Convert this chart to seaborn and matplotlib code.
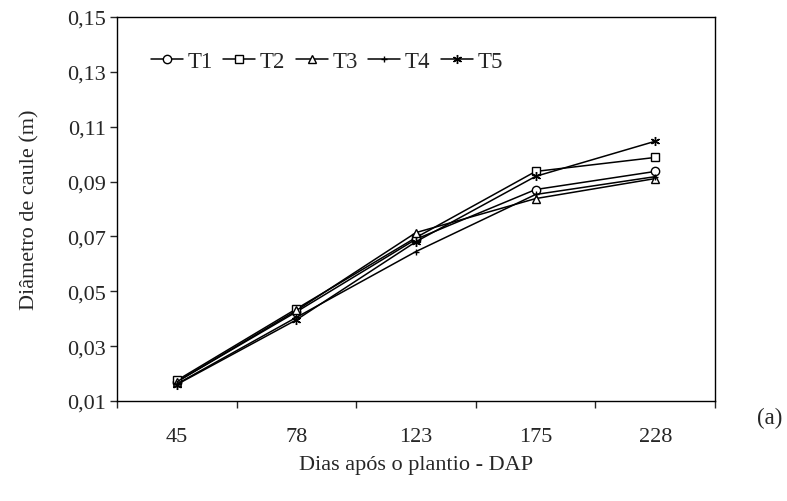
import matplotlib
matplotlib.use("Agg")
import matplotlib.pyplot as plt
import seaborn as sns
import pandas as pd
import numpy as np
from matplotlib.ticker import FixedLocator, NullFormatter, FixedFormatter

days = ["45", "78", "123", "175", "228"]
T1 = [0.0170, 0.0425, 0.0690, 0.0871, 0.0937]
T2 = [0.0175, 0.0436, 0.0696, 0.0937, 0.0988]
T3 = [0.0170, 0.0430, 0.0714, 0.0838, 0.0911]
T4 = [0.0162, 0.0405, 0.0645, 0.0853, 0.0918]
T5 = [0.0160, 0.0396, 0.0681, 0.0919, 0.1047]
yticks = [0.01, 0.03, 0.05, 0.07, 0.09, 0.11, 0.13, 0.15]

series = {"T1": T1, "T2": T2, "T3": T3, "T4": T4, "T5": T5}
markers = {"T1": "o", "T2": "s", "T3": "^", "T4": "+", "T5": (6, 2, 0)}
msizes = {"T1": 6, "T2": 6, "T3": 6, "T4": 4, "T5": 6.5}

sns.set_style("white")
plt.rcParams["font.family"] = ["Liberation Serif", "DejaVu Serif"]

fig = plt.figure(figsize=(7.87, 5.02), dpi=100)
ax = fig.add_axes([0.1487, 0.1992, 0.7598, 0.7649])

for name, vals in series.items():
    d = pd.DataFrame({"DAP": days, "Diam": vals})
    filled = markers[name] in ("o", "s", "^")
    sns.lineplot(data=d, x="DAP", y="Diam", marker=markers[name], color="black",
                 linewidth=1.1, markersize=msizes[name],
                 markerfacecolor="white" if filled else "black",
                 markeredgecolor="black", markeredgewidth=1.0,
                 sort=False, label=name, ax=ax)

ax.set_xlim(-0.5, 4.5)
ax.set_ylim(0.01, 0.15)
ax.xaxis.set_major_locator(FixedLocator(np.arange(-0.5, 5.0, 1.0)))
ax.xaxis.set_major_formatter(NullFormatter())
ax.xaxis.set_minor_locator(FixedLocator(np.arange(0, 5)))
ax.xaxis.set_minor_formatter(FixedFormatter(days))
ax.tick_params(axis="x", which="major", direction="out", length=5, width=1, bottom=True)
ax.tick_params(axis="x", which="minor", length=0, labelsize=16, pad=19)
ax.set_yticks(yticks)
ax.set_yticklabels([f"{v:.2f}".replace(".", ",") for v in yticks])
ax.tick_params(axis="y", direction="out", length=5, width=1, left=True, labelsize=16, pad=3)

for s in ax.spines.values():
    s.set_color("black")
    s.set_linewidth(1.0)

ax.set_xlabel("Dias após o plantio - DAP", fontsize=16, labelpad=6)
ax.set_ylabel("Diâmetro de caule (m)", fontsize=16, labelpad=20)

leg = ax.legend(loc="center left", bbox_to_anchor=(0.057, 0.885), ncol=5, frameon=False,
                fontsize=16.5, handlelength=1.4, handletextpad=0.2, columnspacing=0.45,
                borderaxespad=0, borderpad=0)

fig.text(0.962, 0.167, "(a)", fontsize=16.5, ha="left", va="center")

fig.savefig("out.png", dpi=100)
